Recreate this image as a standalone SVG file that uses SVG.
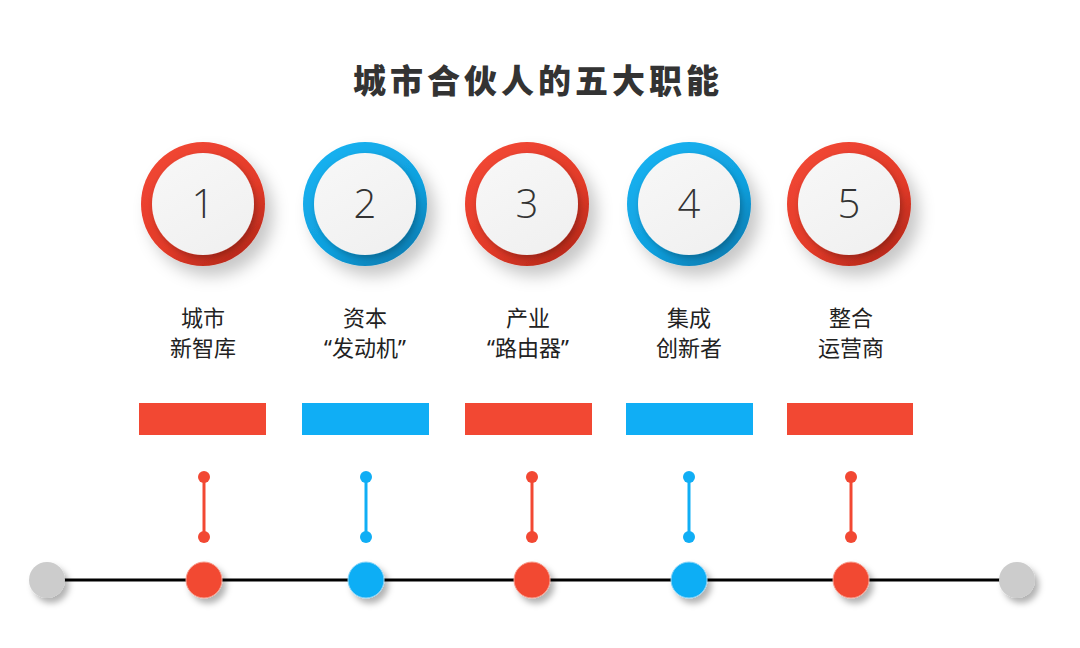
<svg xmlns="http://www.w3.org/2000/svg" width="1080" height="648" viewBox="0 0 1080 648">
  <defs>
    <linearGradient id="gRed" x1="0.2" y1="0.1" x2="0.8" y2="0.95">
      <stop offset="0" stop-color="#f04633"/>
      <stop offset="0.6" stop-color="#e23a28"/>
      <stop offset="1" stop-color="#b8291b"/>
    </linearGradient>
    <linearGradient id="gBlue" x1="0.2" y1="0.1" x2="0.8" y2="0.95">
      <stop offset="0" stop-color="#18b0ef"/>
      <stop offset="0.6" stop-color="#0fa0de"/>
      <stop offset="1" stop-color="#0a7fb5"/>
    </linearGradient>
    <linearGradient id="gWhite" x1="0.2" y1="0" x2="0.8" y2="1">
      <stop offset="0" stop-color="#f7f7f7"/>
      <stop offset="1" stop-color="#f0f0f0"/>
    </linearGradient>
    <filter id="shRing" x="-40%" y="-40%" width="190%" height="190%">
      <feDropShadow dx="8" dy="10" stdDeviation="8" flood-color="#000" flood-opacity="0.22"/>
    </filter>
    <filter id="shInner" x="-30%" y="-30%" width="160%" height="160%">
      <feDropShadow dx="2" dy="3" stdDeviation="3" flood-color="#000" flood-opacity="0.25"/>
    </filter>
    <filter id="shDot" x="-60%" y="-60%" width="230%" height="230%">
      <feDropShadow dx="4" dy="5" stdDeviation="3" flood-color="#000" flood-opacity="0.3"/>
    </filter>
  </defs>
  <style>
    .title { font-family: "Noto Sans CJK SC", sans-serif; font-weight: 900; font-size: 33px; fill: #333; letter-spacing: 4px; }
    .num { font-family: "Open Sans", "Liberation Sans", sans-serif; font-weight: 300; font-size: 40px; fill: #333; }
    .lbl { font-family: "Noto Sans", "Noto Sans CJK SC", sans-serif; font-size: 22px; fill: #222; }
    .red { fill: #f24833; }
    .blue { fill: #10aef5; }
    .grey { fill: #cccccc; }
    .stemR { stroke: #f24833; stroke-width: 3; }
    .stemB { stroke: #10aef5; stroke-width: 3; }
  </style>
  <rect width="1080" height="648" fill="#ffffff"/>
  <text class="title" x="538" y="93" text-anchor="middle">城市合伙人的五大职能</text>

  <g id="connectors">
    <line x1="47" y1="580" x2="1017" y2="580" stroke="#000" stroke-width="3"/>
    <line class="stemR" x1="204" y1="477" x2="204" y2="537"/>
    <circle class="red" cx="204" cy="477" r="6"/><circle class="red" cx="204" cy="537" r="6"/>
    <line class="stemB" x1="366" y1="477" x2="366" y2="537"/>
    <circle class="blue" cx="366" cy="477" r="6"/><circle class="blue" cx="366" cy="537" r="6"/>
    <line class="stemR" x1="532" y1="477" x2="532" y2="537"/>
    <circle class="red" cx="532" cy="477" r="6"/><circle class="red" cx="532" cy="537" r="6"/>
    <line class="stemB" x1="689" y1="477" x2="689" y2="537"/>
    <circle class="blue" cx="689" cy="477" r="6"/><circle class="blue" cx="689" cy="537" r="6"/>
    <line class="stemR" x1="851" y1="477" x2="851" y2="537"/>
    <circle class="red" cx="851" cy="477" r="6"/><circle class="red" cx="851" cy="537" r="6"/>
  </g>

  <g id="end-left"><circle class="grey" cx="47" cy="580" r="18" filter="url(#shDot)"/></g>
  <g id="end-right"><circle class="grey" cx="1017" cy="580" r="18" filter="url(#shDot)"/></g>

  <g id="node1">
    <circle cx="203" cy="204" r="62" fill="url(#gRed)" filter="url(#shRing)"/>
    <circle cx="203" cy="204" r="51" fill="url(#gWhite)" filter="url(#shInner)"/>
    <text class="num" x="203" y="218" text-anchor="middle">1</text>
    <text class="lbl" x="203" y="326" text-anchor="middle">城市</text>
    <text class="lbl" x="203" y="356" text-anchor="middle">新智库</text>
    <rect class="red" x="139" y="403" width="127" height="32"/>
    <circle class="red" cx="204" cy="580" r="18" stroke="#f7a090" stroke-width="1" filter="url(#shDot)"/>
  </g>
  <g id="node2">
    <circle cx="365" cy="204" r="62" fill="url(#gBlue)" filter="url(#shRing)"/>
    <circle cx="365" cy="204" r="51" fill="url(#gWhite)" filter="url(#shInner)"/>
    <text class="num" x="365" y="218" text-anchor="middle">2</text>
    <text class="lbl" x="365" y="326" text-anchor="middle">资本</text>
    <text class="lbl" x="365" y="356" text-anchor="middle">“发动机”</text>
    <rect class="blue" x="302" y="403" width="127" height="32"/>
    <circle class="blue" cx="366" cy="580" r="18" stroke="#8fd6f7" stroke-width="1" filter="url(#shDot)"/>
  </g>
  <g id="node3">
    <circle cx="527" cy="204" r="62" fill="url(#gRed)" filter="url(#shRing)"/>
    <circle cx="527" cy="204" r="51" fill="url(#gWhite)" filter="url(#shInner)"/>
    <text class="num" x="527" y="218" text-anchor="middle">3</text>
    <text class="lbl" x="528" y="326" text-anchor="middle">产业</text>
    <text class="lbl" x="528" y="356" text-anchor="middle">“路由器”</text>
    <rect class="red" x="465" y="403" width="127" height="32"/>
    <circle class="red" cx="532" cy="580" r="18" stroke="#f7a090" stroke-width="1" filter="url(#shDot)"/>
  </g>
  <g id="node4">
    <circle cx="689" cy="204" r="62" fill="url(#gBlue)" filter="url(#shRing)"/>
    <circle cx="689" cy="204" r="51" fill="url(#gWhite)" filter="url(#shInner)"/>
    <text class="num" x="689" y="218" text-anchor="middle">4</text>
    <text class="lbl" x="689" y="326" text-anchor="middle">集成</text>
    <text class="lbl" x="689" y="356" text-anchor="middle">创新者</text>
    <rect class="blue" x="626" y="403" width="127" height="32"/>
    <circle class="blue" cx="689" cy="580" r="18" stroke="#8fd6f7" stroke-width="1" filter="url(#shDot)"/>
  </g>
  <g id="node5">
    <circle cx="849" cy="204" r="62" fill="url(#gRed)" filter="url(#shRing)"/>
    <circle cx="849" cy="204" r="51" fill="url(#gWhite)" filter="url(#shInner)"/>
    <text class="num" x="849" y="218" text-anchor="middle">5</text>
    <text class="lbl" x="851" y="326" text-anchor="middle">整合</text>
    <text class="lbl" x="851" y="356" text-anchor="middle">运营商</text>
    <rect class="red" x="787" y="403" width="126" height="32"/>
    <circle class="red" cx="851" cy="580" r="18" stroke="#f7a090" stroke-width="1" filter="url(#shDot)"/>
  </g>
</svg>
